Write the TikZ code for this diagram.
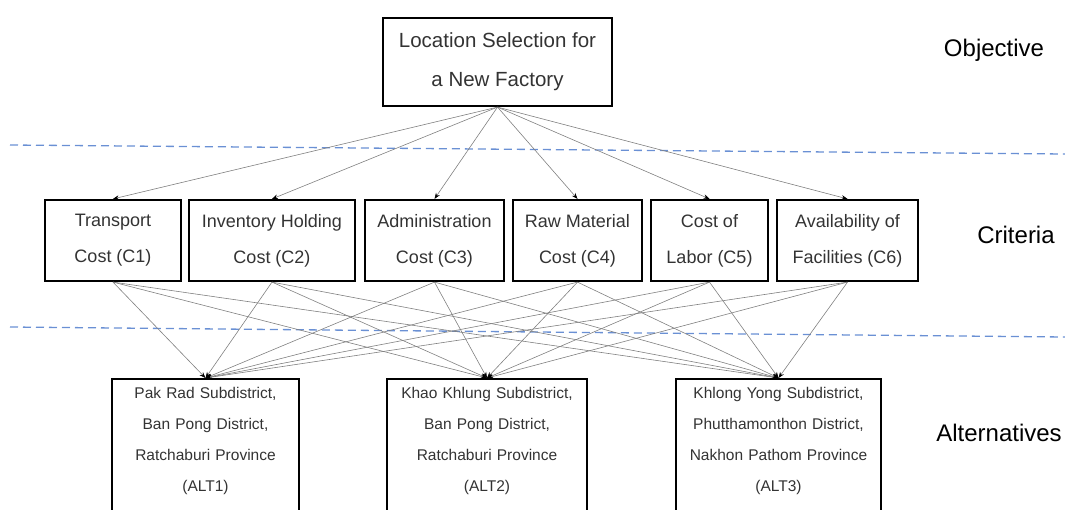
\documentclass[tikz,border=0pt]{standalone}
\usepackage{fontspec}
\setmainfont{Liberation Sans}
\usetikzlibrary{arrows.meta}
\definecolor{boxtext}{HTML}{333333}
\definecolor{levelblue}{HTML}{6A90D4}
\tikzset{
  goalbox/.style={draw=black,line width=2.2pt,align=center,minimum width=229pt,
    minimum height=88pt,inner sep=0pt,text=boxtext,font=\fontsize{20.5}{39}\selectfont},
  critbox/.style={draw=black,line width=2.2pt,align=center,minimum width=#1,
    minimum height=81pt,inner sep=0pt,text=boxtext,font=\fontsize{18}{36}\selectfont},
  altbox/.style={draw=black,line width=2.2pt,align=center,anchor=north,text width=#1,
    inner xsep=0pt,inner ysep=7pt,text height=12pt,text depth=108pt,text=boxtext,
    font=\fontsize{15.5}{31}\selectfont},
  levellabel/.style={font=\fontsize{24}{28}\selectfont},
  linkarrow/.style={-{Stealth[length=6pt,width=4.5pt,black]},draw=black!50,line width=0.6pt},
  levelline/.style={draw=levelblue,dash pattern=on 8pt off 5pt,line width=1.3pt}
}
\begin{document}
\begin{tikzpicture}[x=1pt,y=-1pt]
  \useasboundingbox (0,0) rectangle (1065,509);
  % objective
  \node[goalbox] (goal) at (497.5,62) {Location Selection for\\a New Factory};
  % criteria
  \node[critbox=136pt] (c1) at (113,240.5) {Transport\\Cost (C1)};
  \node[critbox=166pt] (c2) at (272,240.5) {Inventory Holding\\Cost (C2)};
  \node[critbox=139pt] (c3) at (434.5,240.5) {Administration\\Cost (C3)};
  \node[critbox=129pt] (c4) at (577.5,240.5) {Raw Material\\Cost (C4)};
  \node[critbox=117pt] (c5) at (709.5,240.5) {Cost of\\Labor (C5)};
  \node[critbox=141pt] (c6) at (847.5,240.5) {Availability of\\Facilities (C6)};
  % alternatives
  \node[altbox=187pt] (alt1) at (205.5,378)
    {Pak Rad Subdistrict,\\Ban Pong District,\\Ratchaburi Province\\(ALT1)};
  \node[altbox=200pt] (alt2) at (487,378)
    {Khao Khlung Subdistrict,\\Ban Pong District,\\Ratchaburi Province\\(ALT2)};
  \node[altbox=205pt] (alt3) at (778.5,378)
    {Khlong Yong Subdistrict,\\Phutthamonthon District,\\Nakhon Pathom Province\\(ALT3)};
  % level labels
  \node[levellabel] (objlabel) at (994,50) {Objective};
  \node[levellabel] (critlabel) at (1016,235) {Criteria};
  \node[levellabel] (altlabel) at (999,433) {Alternatives};
  % level separators
  \draw[levelline] (10,145) -- (1065,154);
  \draw[levelline] (10,327) -- (1065,337);
  % links
  \foreach \c in {c1,c2,c3,c4,c5,c6}
    \draw[linkarrow] (goal.south) -- (\c.north);
  \foreach \c in {c1,c2,c3,c4,c5,c6}
    \foreach \a in {alt1,alt2,alt3}
      \draw[linkarrow] (\c.south) -- (\a.north);
\end{tikzpicture}
\end{document}
